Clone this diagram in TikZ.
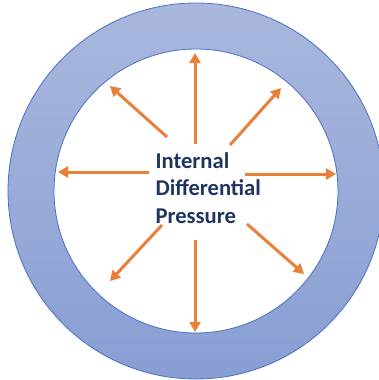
\documentclass[tikz,border=0pt]{standalone}
\usepackage{fontspec}
\setmainfont{Carlito}
\usetikzlibrary{arrows.meta}
\definecolor{ringtop}{HTML}{A9B7DC}
\definecolor{ringbot}{HTML}{889ED3}
\definecolor{ringline}{HTML}{4A72C4}
\definecolor{push}{HTML}{E8803A}
\definecolor{label}{HTML}{1F3561}
\tikzset{
  pusharrow/.style={draw=push, line width=3pt,
    -{Triangle[length=10pt,width=11pt]}},
  ringedge/.style={draw=ringline, line width=0.8pt},
}
\begin{document}
\begin{tikzpicture}[x=1pt,y=-1pt]
\useasboundingbox (0,0) rectangle (378,380);
% the shaded pipe wall
\path[top color=ringtop, bottom color=ringbot, even odd rule]
  (196,191) circle[radius=188] (196,191) circle[radius=142];
\draw[ringedge] (196,191) circle[radius=188];
\draw[ringedge] (196,191) circle[radius=142];
% label in the bore
\node[anchor=west, align=left, text=label, font=\bfseries\fontsize{22.6}{27.5}\selectfont]
  (lbl) at (152,188) {Internal\\Differential\\Pressure};
% arrow end points
\coordinate (nS) at (195,144); \coordinate (nE) at (195,53);
\coordinate (nwS) at (167,137); \coordinate (nwE) at (110,86);
\coordinate (neS) at (230,145); \coordinate (neE) at (281,88);
\coordinate (wS) at (149,172); \coordinate (wE) at (58,172);
\coordinate (eS) at (245,174); \coordinate (eE) at (336,174);
\coordinate (swS) at (162,225); \coordinate (swE) at (110,281);
\coordinate (sS) at (195,240); \coordinate (sE) at (195,332);
\coordinate (seS) at (247,224); \coordinate (seE) at (304,274);
\foreach \d in {n,nw,ne,w,e,sw,s,se}
  \draw[pusharrow] (\d S) -- (\d E);
\end{tikzpicture}
\end{document}
